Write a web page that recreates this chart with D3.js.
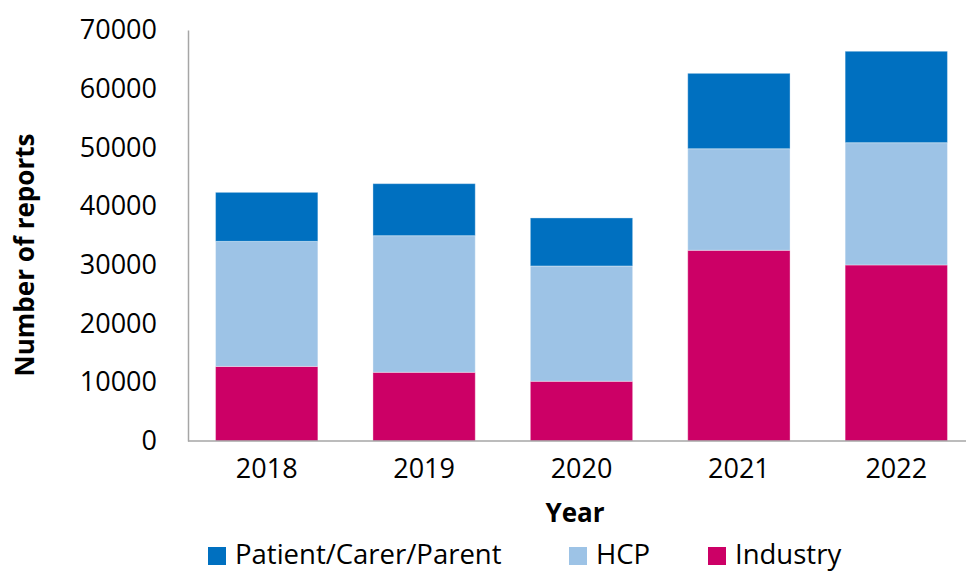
<!DOCTYPE html>
<html><head><meta charset="utf-8">
<script src="https://cdn.jsdelivr.net/npm/d3@7"></script>
<style>body{margin:0;background:#fff}svg{display:block}text{font-family:"Open Sans","Noto Sans",sans-serif;fill:#000}</style>
</head><body><svg id="c" width="966" height="572"></svg>
<script>
const years = ["2018","2019","2020","2021","2022"];
const industry = [12700, 11700, 10170, 32480, 29980];
const hcp = [21300, 23270, 19640, 17300, 20830];
const patient = [8350, 8860, 8180, 12840, 15570];
const seriesNames = ["Industry","HCP","Patient/Carer/Parent"];
const colors = {"Industry":"#CC0066","HCP":"#9DC3E6","Patient/Carer/Parent":"#0070C0"};
const yTicks = [0,10000,20000,30000,40000,50000,60000,70000];
const legendOrder = ["Patient/Carer/Parent","HCP","Industry"];

const rows = years.map((y,i)=>({year:y,"Industry":industry[i],"HCP":hcp[i],"Patient/Carer/Parent":patient[i]}));
const stack = d3.stack().keys(seriesNames)(rows);

const svg = d3.select("#c");
const x = d3.scaleBand().domain(years).range([188,975]).paddingInner(0.35).paddingOuter(0.175);
const y = d3.scaleLinear().domain([0,70000]).range([441,30]);

svg.append("g").selectAll("g").data(stack).join("g")
  .attr("fill", d=>colors[d.key])
  .selectAll("rect").data(d=>d).join("rect")
  .attr("x", d=>x(d.data.year))
  .attr("y", d=>y(d[1]))
  .attr("width", x.bandwidth())
  .attr("height", d=>y(d[0])-y(d[1]))
  .attr("stroke","rgba(255,255,255,0.35)").attr("stroke-width",1);

// y axis
const ya = svg.append("g").attr("transform","translate(188,0)")
  .call(d3.axisLeft(y).tickValues(yTicks).tickFormat(d3.format("d")).tickSize(0).tickPadding(31));
ya.select(".domain").attr("stroke","#A6A6A6").attr("stroke-width",1.5);
ya.selectAll("text").attr("font-size",27).attr("font-family","'Open Sans',sans-serif");

// x axis
const xa = svg.append("g").attr("transform","translate(0,441)")
  .call(d3.axisBottom(x).tickSize(0).tickPadding(18));
xa.select(".domain").attr("d","M188,0H966").attr("stroke","#A6A6A6").attr("stroke-width",1.5);
xa.selectAll("text").attr("font-size",27).attr("font-family","'Open Sans',sans-serif");

svg.append("text").attr("x",575).attr("y",522).attr("text-anchor","middle")
  .attr("font-size",26).attr("font-weight","bold").text("Year");
svg.append("text").attr("transform","translate(34,255) rotate(-90)").attr("text-anchor","middle")
  .attr("font-size",26).attr("font-weight","bold").text("Number of reports");

// legend
const legX = {"Patient/Carer/Parent":208,"HCP":569,"Industry":708};
const lg = svg.append("g").selectAll("g").data(legendOrder).join("g")
  .attr("transform", d=>`translate(${legX[d]},547)`);
lg.append("rect").attr("width",18).attr("height",18).attr("fill",d=>colors[d]);
lg.append("text").attr("x",27).attr("y",17).attr("font-size",27.5).text(d=>d);
</script></body></html>
